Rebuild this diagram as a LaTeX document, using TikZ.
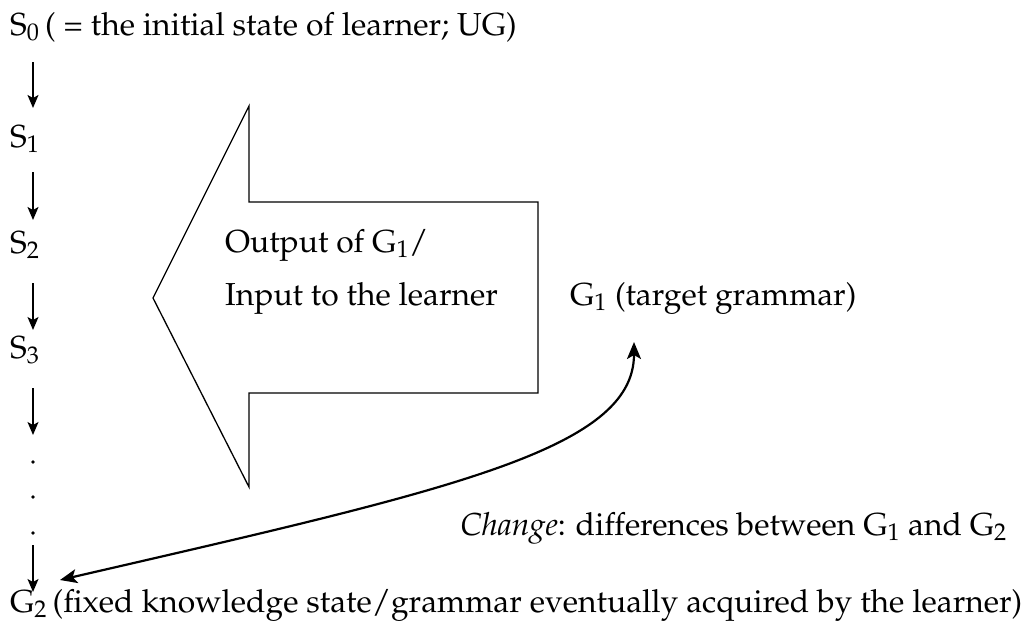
\documentclass[tikz,border=0pt]{standalone}
\usepackage[T1]{fontenc}
\usepackage{mathpazo}
\usetikzlibrary{arrows.meta}
\tikzset{
  lbl/.style={inner sep=0pt, anchor=base west, font=\fontsize{31.8}{38}\selectfont},
  stepdown/.style={line width=1.4pt, -{Stealth[length=13pt,width=11pt,inset=3pt]}},
  bigarrow/.style={line width=1.3pt, line join=miter},
  change/.style={line width=2.2pt, {Stealth[length=17pt,width=14pt,inset=4pt]}-{Stealth[length=17pt,width=14pt,inset=4pt]}},
  dot/.style={circle, fill=black, inner sep=0pt, minimum size=3.6pt}
}
\begin{document}
\begin{tikzpicture}[x=1pt,y=-1pt]
\useasboundingbox (0,0) rectangle (1034,630);

% learner states down the left column
\node[lbl] (s0) at (10,35) {S$_0$};
\node[lbl] (s0t) at (s0.base east) {\,( = the initial state of learner; UG)};
\node[lbl] (s1) at (10,147) {S$_1$};
\node[lbl] (s2) at (10,253) {S$_2$};
\node[lbl] (s3) at (10,358) {S$_3$};
\node[dot] (d1) at (33,462) {};
\node[dot] (d2) at (33,497) {};
\node[dot] (d3) at (33,533) {};
\node[lbl] (g2) at (10,612) {G$_2$};
\node[lbl] (g2t) at (g2.base east) {\,(fixed knowledge state/grammar eventually acquired by the learner)};

\coordinate (ax) at (33,0);
\draw[stepdown] ([yshift=-27pt]s0.base -| ax) -- ([yshift=-73pt]s0.base -| ax);
\draw[stepdown] ([yshift=-25pt]s1.base -| ax) -- ([yshift=-73pt]s1.base -| ax);
\draw[stepdown] ([yshift=-30pt]s2.base -| ax) -- ([yshift=-77pt]s2.base -| ax);
\draw[stepdown] ([yshift=-30pt]s3.base -| ax) -- ([yshift=-77pt]s3.base -| ax);
\draw[stepdown] ([yshift=-12pt]d3.center) -- ([yshift=-59pt]d3.center);

% input from the target grammar to the learner
\draw[bigarrow] (153,298) -- (249,106) -- (249,202) -- (538,202) -- (538,393)
  -- (249,393) -- (249,487) -- cycle;
\node[lbl] (out) at (225,252) {Output of G$_1$/};
\node[lbl] (inp) at (225,305) {Input to the learner};

% target grammar and the change between the two grammars
\node[lbl] (g1) at (570,305) {G$_1$ (target grammar)};
\node[lbl, anchor=base east] (chg) at (1007,535) {\textit{Change}: differences between G$_1$ and G$_2$};
\coordinate (ctop) at (634,342);
\coordinate (cbot) at (60,580);
\draw[change] (cbot) .. controls (450,490) and (634,450) .. (ctop);
\end{tikzpicture}
\end{document}
